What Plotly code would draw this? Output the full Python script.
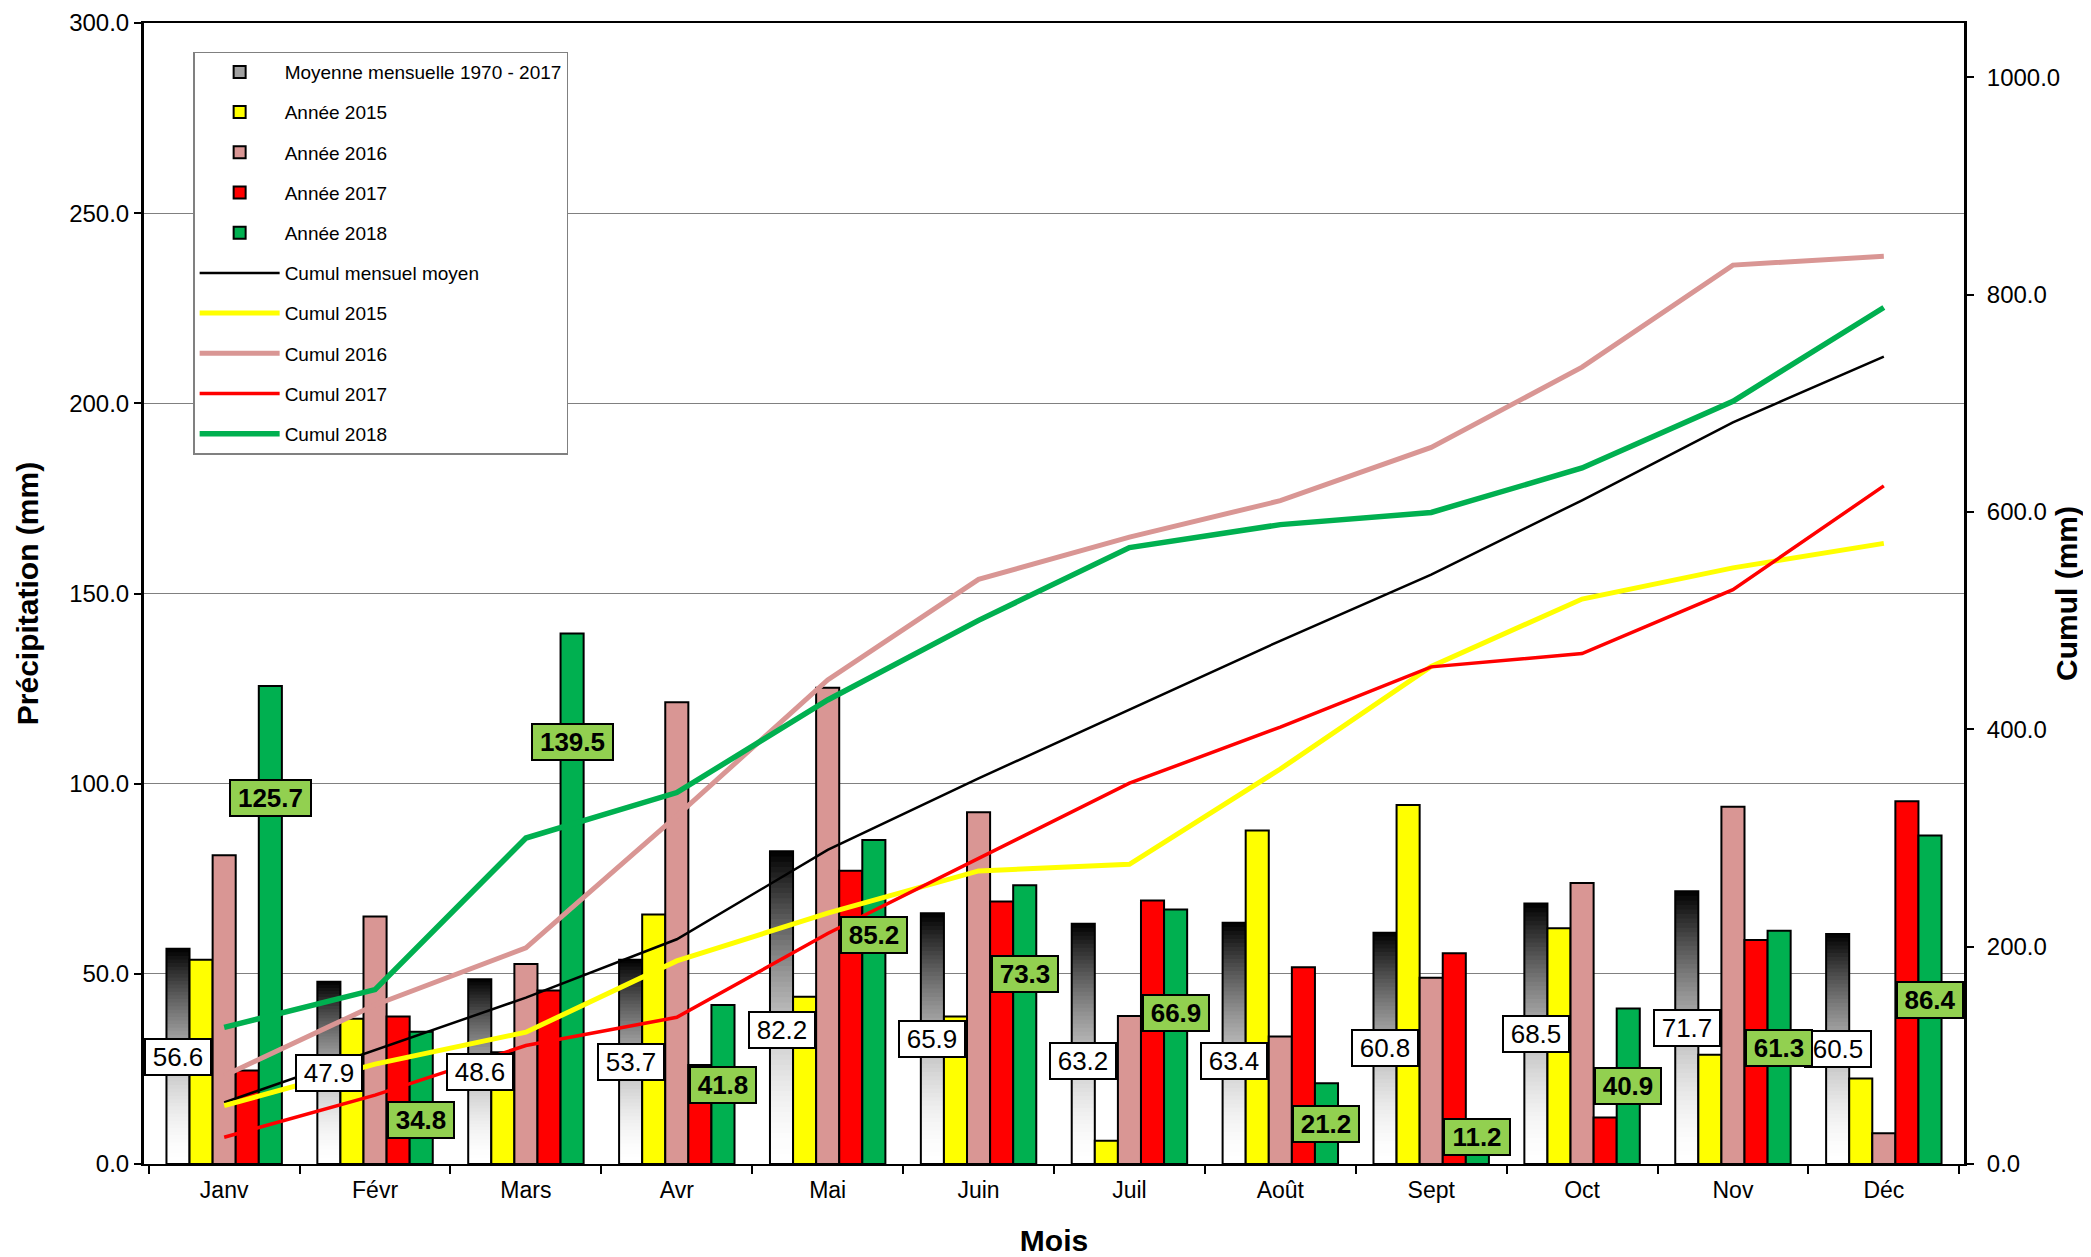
import plotly.graph_objects as go

# ---------------- data ----------------
months = ["Janv", "Févr", "Mars", "Avr", "Mai", "Juin", "Juil", "Août", "Sept", "Oct", "Nov", "Déc"]
moyenne = [56.6, 47.9, 48.6, 53.7, 82.2, 65.9, 63.2, 63.4, 60.8, 68.5, 71.7, 60.5]
annee_2015 = [53.7, 38.2, 29.4, 65.6, 44.0, 38.8, 6.1, 87.7, 94.4, 62.0, 28.7, 22.5]
annee_2016 = [81.2, 65.1, 52.6, 121.4, 125.2, 92.5, 38.9, 33.5, 49.0, 73.9, 93.9, 8.1]
annee_2017 = [24.6, 38.8, 45.6, 26.0, 77.1, 69.0, 69.3, 51.7, 55.4, 12.2, 58.9, 95.4]
annee_2018 = [125.7, 34.8, 139.5, 41.8, 85.2, 73.3, 66.9, 21.2, 11.2, 40.9, 61.3, 86.4]
cumul_moyen = [56.6, 104.5, 153.1, 206.8, 289.0, 354.9, 418.1, 481.5, 542.3, 610.8, 682.5, 743.0]
cumul_2015 = [53.7, 91.9, 121.3, 186.9, 230.9, 269.7, 275.8, 363.5, 457.9, 519.9, 548.6, 571.1]
cumul_2016 = [81.2, 146.3, 198.9, 320.3, 445.5, 538.0, 576.9, 610.4, 659.4, 733.3, 827.2, 835.3]
cumul_2017 = [24.6, 63.4, 109.0, 135.0, 212.1, 281.1, 350.4, 402.1, 457.5, 469.7, 528.6, 624.0]
cumul_2018 = [125.7, 160.5, 300.0, 341.8, 427.0, 500.3, 567.2, 588.4, 599.6, 640.5, 701.8, 788.2]

# label anchor heights (left-axis units), as placed in the reference
mean_label_y = [28.1, 24.0, 24.3, 26.8, 35.2, 32.9, 27.1, 27.2, 30.4, 34.1, 35.7, 30.2]
label_2018_y = [96.2, 11.5, 110.9, 20.8, 60.2, 50.0, 39.7, 10.5, 7.1, 20.4, 30.5, 43.2]

# ---------------- style ----------------
FONT = "Liberation Sans, Arial, sans-serif"
YELLOW = "#FFFF00"
PINK = "#D99694"
RED = "#FF0000"
GREEN = "#00B050"
LABEL_GREEN = "#92D050"
BARGAP = 0.235
N_SEG = 60

fig = go.Figure()

# gradient mean bars (black at top -> white at bottom): nested bars, each
# shorter one drawn over the previous, so no gaps can appear
for k in range(N_SEG):
    frac_top = (N_SEG - k) / N_SEG
    f = (N_SEG - k - 0.5) / N_SEG
    g = int(round(255 * (1 - f ** 1.8)))
    fig.add_trace(go.Bar(
        x=months,
        y=[v * frac_top for v in moyenne],
        offsetgroup="moy",
        marker=dict(color=f"rgb({g},{g},{g})", line=dict(width=0)),
        showlegend=False, hoverinfo="skip",
    ))
# outline of mean bars
fig.add_trace(go.Bar(
    x=months, y=moyenne, offsetgroup="moy",
    marker=dict(color="rgba(0,0,0,0)", line=dict(color="black", width=2)),
    showlegend=False, hoverinfo="skip",
))
# legend entry for the mean
fig.add_trace(go.Bar(
    x=months, y=[None] * 12, offsetgroup="moy",
    name="Moyenne mensuelle 1970 - 2017", legendgroup="g0",
    marker=dict(color="#a0a0a0", line=dict(color="black", width=2)),
))

for i, (name, vals, col) in enumerate([
    ("Année 2015", annee_2015, YELLOW),
    ("Année 2016", annee_2016, PINK),
    ("Année 2017", annee_2017, RED),
    ("Année 2018", annee_2018, GREEN),
]):
    fig.add_trace(go.Bar(
        x=months, y=vals, name=name, offsetgroup=name, legendgroup=f"g{i+1}",
        marker=dict(color=col, line=dict(color="black", width=2)),
    ))

for i, (name, vals, col, w) in enumerate([
    ("Cumul mensuel moyen", cumul_moyen, "black", 2.5),
    ("Cumul 2015", cumul_2015, YELLOW, 5),
    ("Cumul 2016", cumul_2016, PINK, 5),
    ("Cumul 2017", cumul_2017, RED, 3.5),
    ("Cumul 2018", cumul_2018, GREEN, 5.5),
]):
    fig.add_trace(go.Scatter(
        x=months, y=vals, name=name, yaxis="y2", mode="lines", legendgroup=f"g{i+5}",
        line=dict(color=col, width=w),
    ))

# data labels
bar_w = (1 - BARGAP) / 5
annotations = []
for i, (v, ly) in enumerate(zip(moyenne, mean_label_y)):
    txt = f"{v:.1f}"
    annotations.append(dict(
        x=i - 2 * bar_w, y=ly, xref="x", yref="y", text=txt, showarrow=False,
        font=dict(family=FONT, size=26, color="black"),
        bgcolor="white", bordercolor="black", borderwidth=2, borderpad=2,
        width=15 * len(txt), height=30,
    ))
for i, (v, ly) in enumerate(zip(annee_2018, label_2018_y)):
    txt = f"{v:.1f}"
    annotations.append(dict(
        x=i + 2 * bar_w, y=ly, xref="x", yref="y", text=f"<b>{txt}</b>", showarrow=False,
        font=dict(family=FONT, size=26, color="black"),
        bgcolor=LABEL_GREEN, bordercolor="black", borderwidth=2, borderpad=2,
        width=15 * len(txt), height=30,
    ))

fig.update_layout(
    width=2075, height=1249,
    margin=dict(l=136, r=119, t=15, b=93, autoexpand=False),
    paper_bgcolor="white", plot_bgcolor="white",
    barmode="group", bargap=BARGAP, bargroupgap=0,
    font=dict(family=FONT, color="black"),
    annotations=annotations,
    legend=dict(
        x=0.027, y=0.975, xanchor="left", yanchor="top",
        bgcolor="white", bordercolor="#808080", borderwidth=1.5,
        font=dict(family=FONT, size=19, color="black"),
        traceorder="grouped", tracegroupgap=12.5, itemwidth=80,
    ),
    xaxis=dict(
        type="category", tickson="boundaries", ticks="outside", ticklen=8,
        tickwidth=1.5, tickcolor="black", showline=True, linecolor="black",
        linewidth=2, mirror=True, showgrid=False, ticklabelstandoff=4,
        tickfont=dict(family=FONT, size=23, color="black"),
        title=dict(text="Mois", font=dict(family=FONT, size=30, weight="bold"), standoff=40),
    ),
    yaxis=dict(
        range=[0, 300], tick0=0, dtick=50, tickformat=".1f",
        showgrid=True, gridcolor="#808080", gridwidth=1, zeroline=False,
        ticks="outside", ticklen=7, tickwidth=1.5, tickcolor="black",
        showline=True, linecolor="black", linewidth=3,
        tickfont=dict(family=FONT, size=24, color="black"),
        title=dict(text="Précipitation (mm)", font=dict(family=FONT, size=30, weight="bold"), standoff=22),
    ),
    yaxis2=dict(
        overlaying="y", side="right", range=[0, 1050], tick0=0, dtick=200,
        tickformat=".1f", showgrid=False, zeroline=False,
        ticks="outside", ticklen=7, tickwidth=1.5, tickcolor="black",
        showline=True, linecolor="black", linewidth=3, ticklabelstandoff=8,
        tickfont=dict(family=FONT, size=24, color="black"),
        title=dict(text="Cumul (mm)", font=dict(family=FONT, size=30, weight="bold"), standoff=2),
    ),
)

fig.write_html("out.html")
